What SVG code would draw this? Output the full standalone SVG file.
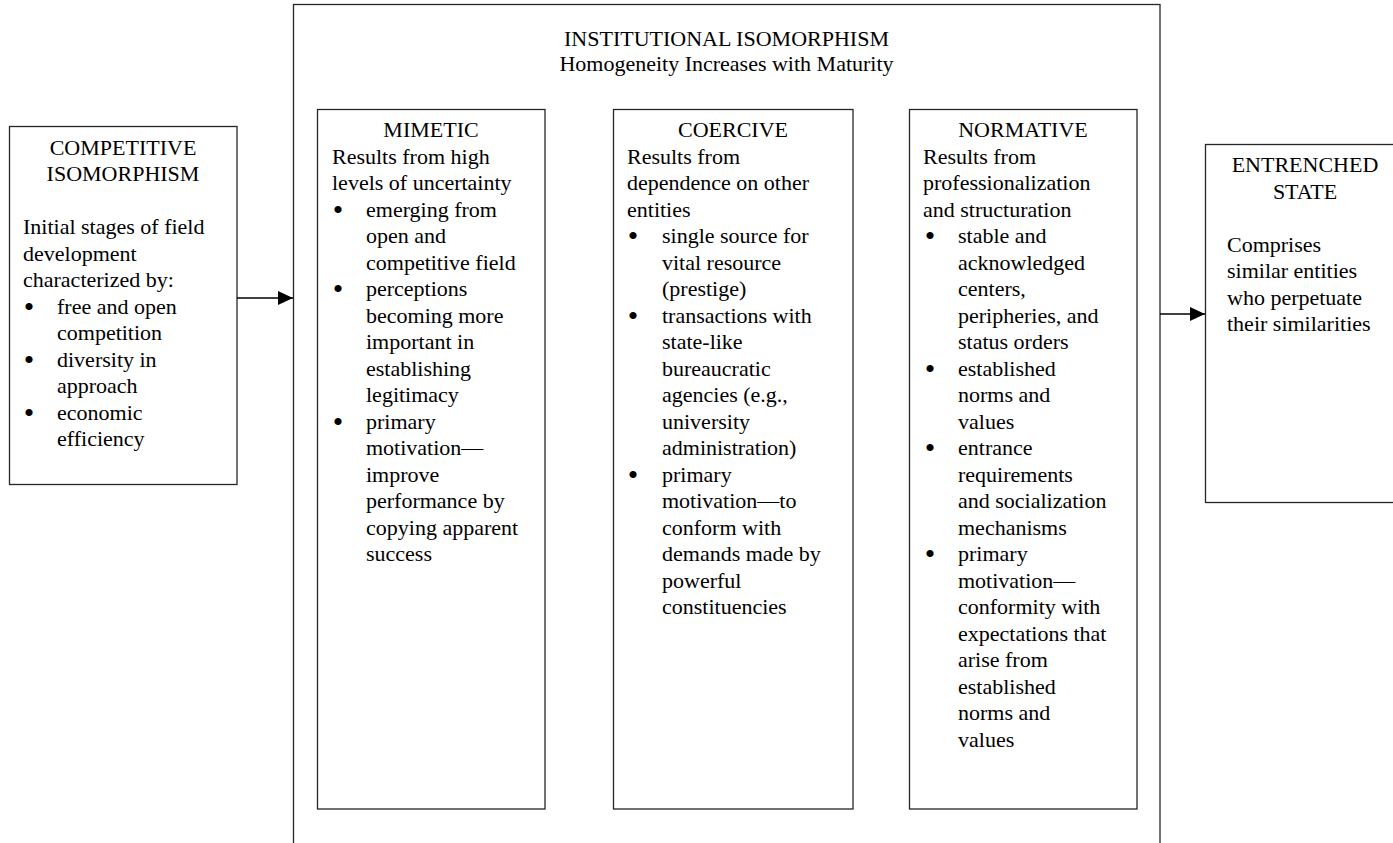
<svg xmlns="http://www.w3.org/2000/svg" width="1393" height="843" viewBox="0 0 1393 843">
  <style>
    .box { fill: #ffffff; stroke: #262626; stroke-width: 1.3; }
    .frame { fill: none; stroke: #262626; stroke-width: 1.3; }
    text { font-family: "Liberation Serif", "Times New Roman", serif; font-size: 22px; fill: #000000; }
    .head { text-anchor: middle; }
    .bul { font-size: 30px; text-anchor: middle; }
    .link { stroke: #000000; stroke-width: 1.3; fill: none; }
  </style>
  <defs>
    <marker id="arrowhead" markerUnits="userSpaceOnUse" markerWidth="15" markerHeight="14" refX="15" refY="7" orient="auto">
      <path d="M0,0 L15,7 L0,14 Z" fill="#000000"/>
    </marker>
  </defs>
  <rect width="1393" height="843" fill="#ffffff"/>

  <!-- outer frame: institutional isomorphism -->
  <g id="institutional">
    <rect class="frame" x="293.5" y="4.5" width="866.5" height="860"/>
    <text class="head" x="726.5" y="46">INSTITUTIONAL ISOMORPHISM</text>
    <text class="head" x="726.5" y="71">Homogeneity Increases with Maturity</text>
  </g>

  <!-- competitive isomorphism -->
  <g id="competitive">
    <rect class="box" x="9.5" y="126.5" width="227.5" height="358"/>
    <text class="head" x="123" y="155">COMPETITIVE</text>
    <text class="head" x="123" y="181">ISOMORPHISM</text>
    <text x="23" y="234">Initial stages of field</text>
    <text x="23" y="260.5">development</text>
    <text x="23" y="287">characterized by:</text>
    <text class="bul" x="29" y="316.5">•</text><text x="57" y="313.5">free and open</text>
    <text x="57" y="340">competition</text>
    <text class="bul" x="29" y="369.5">•</text><text x="57" y="366.5">diversity in</text>
    <text x="57" y="393">approach</text>
    <text class="bul" x="29" y="422.5">•</text><text x="57" y="419.5">economic</text>
    <text x="57" y="446">efficiency</text>
  </g>

  <!-- mimetic -->
  <g id="mimetic">
    <rect class="box" x="317.5" y="109.5" width="227.5" height="699.5"/>
    <text class="head" x="431" y="137">MIMETIC</text>
    <text x="332" y="163.5">Results from high</text>
    <text x="332" y="190">levels of uncertainty</text>
    <text class="bul" x="338" y="219.5">•</text><text x="366" y="216.5">emerging from</text>
    <text x="366" y="243">open and</text>
    <text x="366" y="269.5">competitive field</text>
    <text class="bul" x="338" y="299">•</text><text x="366" y="296">perceptions</text>
    <text x="366" y="322.5">becoming more</text>
    <text x="366" y="349">important in</text>
    <text x="366" y="375.5">establishing</text>
    <text x="366" y="402">legitimacy</text>
    <text class="bul" x="338" y="431.5">•</text><text x="366" y="428.5">primary</text>
    <text x="366" y="455">motivation—</text>
    <text x="366" y="481.5">improve</text>
    <text x="366" y="508">performance by</text>
    <text x="366" y="534.5">copying apparent</text>
    <text x="366" y="561">success</text>
  </g>

  <!-- coercive -->
  <g id="coercive">
    <rect class="box" x="613.5" y="109.5" width="239.5" height="699.5"/>
    <text class="head" x="733" y="137">COERCIVE</text>
    <text x="627" y="163.5">Results from</text>
    <text x="627" y="190">dependence on other</text>
    <text x="627" y="216.5">entities</text>
    <text class="bul" x="633" y="246">•</text><text x="662" y="243">single source for</text>
    <text x="662" y="269.5">vital resource</text>
    <text x="662" y="296">(prestige)</text>
    <text class="bul" x="633" y="325.5">•</text><text x="662" y="322.5">transactions with</text>
    <text x="662" y="349">state-like</text>
    <text x="662" y="375.5">bureaucratic</text>
    <text x="662" y="402">agencies (e.g.,</text>
    <text x="662" y="428.5">university</text>
    <text x="662" y="455">administration)</text>
    <text class="bul" x="633" y="484.5">•</text><text x="662" y="481.5">primary</text>
    <text x="662" y="508">motivation—to</text>
    <text x="662" y="534.5">conform with</text>
    <text x="662" y="561">demands made by</text>
    <text x="662" y="587.5">powerful</text>
    <text x="662" y="614">constituencies</text>
  </g>

  <!-- normative -->
  <g id="normative">
    <rect class="box" x="909.5" y="109.5" width="227.5" height="699.5"/>
    <text class="head" x="1023" y="137">NORMATIVE</text>
    <text x="923" y="163.5">Results from</text>
    <text x="923" y="190">professionalization</text>
    <text x="923" y="216.5">and structuration</text>
    <text class="bul" x="930" y="246">•</text><text x="958" y="243">stable and</text>
    <text x="958" y="269.5">acknowledged</text>
    <text x="958" y="296">centers,</text>
    <text x="958" y="322.5">peripheries, and</text>
    <text x="958" y="349">status orders</text>
    <text class="bul" x="930" y="378.5">•</text><text x="958" y="375.5">established</text>
    <text x="958" y="402">norms and</text>
    <text x="958" y="428.5">values</text>
    <text class="bul" x="930" y="458">•</text><text x="958" y="455">entrance</text>
    <text x="958" y="481.5">requirements</text>
    <text x="958" y="508">and socialization</text>
    <text x="958" y="534.5">mechanisms</text>
    <text class="bul" x="930" y="564">•</text><text x="958" y="561">primary</text>
    <text x="958" y="587.5">motivation—</text>
    <text x="958" y="614">conformity with</text>
    <text x="958" y="640.5">expectations that</text>
    <text x="958" y="667">arise from</text>
    <text x="958" y="693.5">established</text>
    <text x="958" y="720">norms and</text>
    <text x="958" y="746.5">values</text>
  </g>

  <!-- entrenched state -->
  <g id="entrenched">
    <rect class="box" x="1205.5" y="144.5" width="200" height="358"/>
    <text class="head" x="1305" y="172">ENTRENCHED</text>
    <text class="head" x="1305" y="198.5">STATE</text>
    <text x="1227" y="251.5">Comprises</text>
    <text x="1227" y="278">similar entities</text>
    <text x="1227" y="304.5">who perpetuate</text>
    <text x="1227" y="331">their similarities</text>
  </g>

  <!-- connectors -->
  <g id="connectors">
    <line class="link" x1="237" y1="298" x2="293" y2="298" marker-end="url(#arrowhead)"/>
    <line class="link" x1="1160" y1="314" x2="1205" y2="314" marker-end="url(#arrowhead)"/>
  </g>
</svg>
